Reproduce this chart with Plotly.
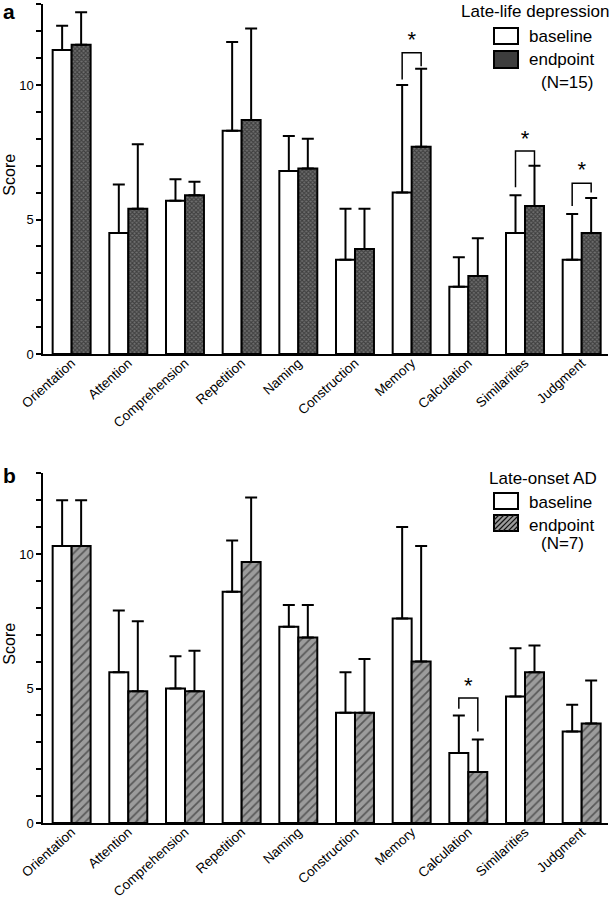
import plotly.graph_objects as go

# ---------------- data ----------------
categories = ["Orientation", "Attention", "Comprehension", "Repetition", "Naming",
              "Construction", "Memory", "Calculation", "Similarities", "Judgment"]

# Panel a: Late-life depression (N=15)
a_baseline = [11.3, 4.5, 5.7, 8.3, 6.8, 3.5, 6.0, 2.5, 4.5, 3.5]
a_baseline_sd = [0.9, 1.8, 0.8, 3.3, 1.3, 1.9, 4.0, 1.1, 1.4, 1.7]
a_endpoint = [11.5, 5.4, 5.9, 8.7, 6.9, 3.9, 7.7, 2.9, 5.5, 4.5]
a_endpoint_sd = [1.2, 2.4, 0.5, 3.4, 1.1, 1.5, 2.9, 1.4, 1.5, 1.3]

# Panel b: Late-onset AD (N=7)
b_baseline = [10.3, 5.6, 5.0, 8.6, 7.3, 4.1, 7.6, 2.6, 4.7, 3.4]
b_baseline_sd = [1.7, 2.3, 1.2, 1.9, 0.8, 1.5, 3.4, 1.4, 1.8, 1.0]
b_endpoint = [10.3, 4.9, 4.9, 9.7, 6.9, 4.1, 6.0, 1.9, 5.6, 3.7]
b_endpoint_sd = [1.7, 2.6, 1.5, 2.4, 1.2, 2.0, 4.3, 1.2, 1.0, 1.6]

# significance brackets: category, left leg bottom, bracket top, right leg bottom, star
a_sig_cats = ["Memory", "Similarities", "Judgment"]
a_sig_left = [10.2, 6.2, 5.5]
a_sig_top = [11.2, 7.55, 6.35]
a_sig_right = [10.7, 7.0, 6.0]
a_sig_star = [11.6, 7.95, 6.8]

b_sig_cats = ["Calculation"]
b_sig_left = [4.25]
b_sig_top = [4.65]
b_sig_right = [3.4]
b_sig_star = [5.05]

a_title = "Late-life depression"
a_n = "(N=15)"
b_title = "Late-onset AD"
b_n = "(N=7)"

# ---------------- layout geometry ----------------
W, H = 614, 900
FONT = "Liberation Sans, Arial, Helvetica, sans-serif"
BARGAP = 0.33


def fx(p):
    return p / W


def fy(p):
    return 1 - p / H


x_dom = [fx(43.3), fx(608.3)]
ya_dom = [fy(354), fy(4.3)]
yb_dom = [fy(823), fy(473.3)]
idx = list(range(len(categories)))
half = (1 - BARGAP) / 4.0  # center offset of each bar within a group

fig = go.Figure()

panels = [
    ("x", "y", a_baseline, a_baseline_sd, a_endpoint, a_endpoint_sd,
     dict(shape="x", size=3, solidity=0.6, fgcolor="#101010", bgcolor="#707070")),
    ("x2", "y2", b_baseline, b_baseline_sd, b_endpoint, b_endpoint_sd,
     dict(shape="/", size=6, solidity=0.28, fgcolor="#111111", bgcolor="#9c9c9c")),
]

for xa, ya, base, bsd, end, esd, patt in panels:
    fig.add_trace(go.Bar(
        x=idx, y=base, xaxis=xa, yaxis=ya, name="baseline", showlegend=False,
        offsetgroup="baseline",
        marker=dict(color="white", line=dict(color="black", width=2)),
        error_y=dict(type="data", array=bsd, arrayminus=[0] * len(bsd), symmetric=False,
                     color="black", thickness=2, width=6),
    ))
    fig.add_trace(go.Bar(
        x=idx, y=end, xaxis=xa, yaxis=ya, name="endpoint", showlegend=False,
        offsetgroup="endpoint",
        marker=dict(color=patt["bgcolor"], line=dict(color="black", width=2), pattern=patt),
        error_y=dict(type="data", array=esd, arrayminus=[0] * len(esd), symmetric=False,
                     color="black", thickness=2, width=6),
    ))

# significance brackets
for xa, ya, cats, left, top, right, star in [
    ("x", "y", a_sig_cats, a_sig_left, a_sig_top, a_sig_right, a_sig_star),
    ("x2", "y2", b_sig_cats, b_sig_left, b_sig_top, b_sig_right, b_sig_star),
]:
    bx, by, sx = [], [], []
    for c, l, t, r in zip(cats, left, top, right):
        i = categories.index(c)
        bx += [i - half, i - half, i + half, i + half, None]
        by += [l, t, t, r, None]
        sx.append(i)
    fig.add_trace(go.Scatter(x=bx, y=by, xaxis=xa, yaxis=ya, mode="lines",
                             line=dict(color="black", width=1.5), showlegend=False,
                             hoverinfo="skip"))
    fig.add_trace(go.Scatter(x=sx, y=star, xaxis=xa, yaxis=ya, mode="text", text=["*"] * len(sx),
                             textposition="middle center",
                             textfont=dict(size=22, color="black", family=FONT),
                             showlegend=False, hoverinfo="skip"))

xaxis_common = dict(
    domain=x_dom, range=[-0.5, 9.47], tickmode="array", tickvals=idx, ticktext=categories,
    tickangle=-42, ticks="", showline=True, linewidth=2, linecolor="black",
    showgrid=False, zeroline=False, tickfont=dict(size=13.5, color="black", family=FONT),
    ticklabelstandoff=-6, automargin=False,
)
yaxis_common = dict(
    range=[0, 13], tickmode="linear", tick0=0, dtick=5, ticks="outside", ticklen=5,
    tickwidth=2, tickcolor="black", showline=True, linewidth=2, linecolor="black",
    showgrid=False, zeroline=False, tickfont=dict(size=13, color="black", family=FONT),
    minor=dict(tickmode="linear", tick0=0, dtick=1, ticks="outside", ticklen=5,
               tickwidth=1.5, tickcolor="black", showgrid=False),
    automargin=False,
)

fig.update_layout(
    width=W, height=H, margin=dict(l=0, r=0, t=0, b=0, autoexpand=False),
    paper_bgcolor="white", plot_bgcolor="white",
    barmode="group", bargap=BARGAP, bargroupgap=0,
    font=dict(family=FONT, color="black"),
    xaxis=dict(anchor="y", **xaxis_common),
    yaxis=dict(anchor="x", domain=ya_dom, **yaxis_common),
    xaxis2=dict(anchor="y2", **xaxis_common),
    yaxis2=dict(anchor="x2", domain=yb_dom, **yaxis_common),
    showlegend=False,
)

ann = []
shapes = []
LEG = 17

# panel letters
ann.append(dict(text="<b>a</b>", x=fx(1), y=fy(11), xref="paper", yref="paper",
                xanchor="left", yanchor="middle", showarrow=False, font=dict(size=21)))
ann.append(dict(text="<b>b</b>", x=fx(1), y=fy(475), xref="paper", yref="paper",
                xanchor="left", yanchor="middle", showarrow=False, font=dict(size=21)))

# y-axis titles
for dom in (ya_dom, yb_dom):
    ann.append(dict(text="Score", x=fx(9.5), y=(dom[0] + dom[1]) / 2, xref="paper", yref="paper",
                    xanchor="center", yanchor="middle", textangle=-90, yshift=4,
                    showarrow=False, font=dict(size=16)))

# legends (drawn as annotations + shapes)
legends = [
    (a_title, 611, 11, (28, 44), (51, 68), 36, 59, a_n, 83, "#3d3d3d", False),
    (b_title, 599, 478, (493, 509), (515, 531), 502, 525, b_n, 543, "#9c9c9c", True),
]
for title, tr, ty, bb, eb, by_, ey_, ntxt, ny, efill, hatch in legends:
    ann.append(dict(text=title, x=fx(tr), y=fy(ty), xref="paper", yref="paper",
                    xanchor="right", yanchor="middle", showarrow=False, font=dict(size=LEG)))
    ann.append(dict(text="baseline", x=fx(527), y=fy(by_), xref="paper", yref="paper",
                    xanchor="left", yanchor="middle", showarrow=False, font=dict(size=LEG)))
    ann.append(dict(text="endpoint", x=fx(527), y=fy(ey_), xref="paper", yref="paper",
                    xanchor="left", yanchor="middle", showarrow=False, font=dict(size=LEG)))
    ann.append(dict(text=ntxt, x=fx(538.5), y=fy(ny), xref="paper", yref="paper",
                    xanchor="left", yanchor="middle", showarrow=False, font=dict(size=LEG)))
    shapes.append(dict(type="rect", xref="paper", yref="paper",
                       x0=fx(494), x1=fx(518), y0=fy(bb[1]), y1=fy(bb[0]),
                       fillcolor="white", line=dict(color="black", width=2)))
    shapes.append(dict(type="rect", xref="paper", yref="paper",
                       x0=fx(494), x1=fx(518), y0=fy(eb[1]), y1=fy(eb[0]),
                       fillcolor=efill, line=dict(color="black", width=2)))
    if hatch:
        x0, x1, y0, y1 = 494, 518, eb[0], eb[1]
        path = ""
        k = -(y1 - y0)
        while k < (x1 - x0):
            sx0, sy0 = x0 + k, y1
            sx1, sy1 = x0 + k + (y1 - y0), y0
            if sx0 < x0:
                sy0 = y1 - (x0 - sx0)
                sx0 = x0
            if sx1 > x1:
                sy1 = y0 + (sx1 - x1)
                sx1 = x1
            path += f"M{fx(sx0)},{fy(sy0)} L{fx(sx1)},{fy(sy1)} "
            k += 5
        shapes.append(dict(type="path", xref="paper", yref="paper", path=path,
                           line=dict(color="#111111", width=1.2)))

fig.update_layout(annotations=ann, shapes=shapes)
fig.write_html("out.html", config={"displayModeBar": False},
               post_script="document.body.style.margin='0px';")
